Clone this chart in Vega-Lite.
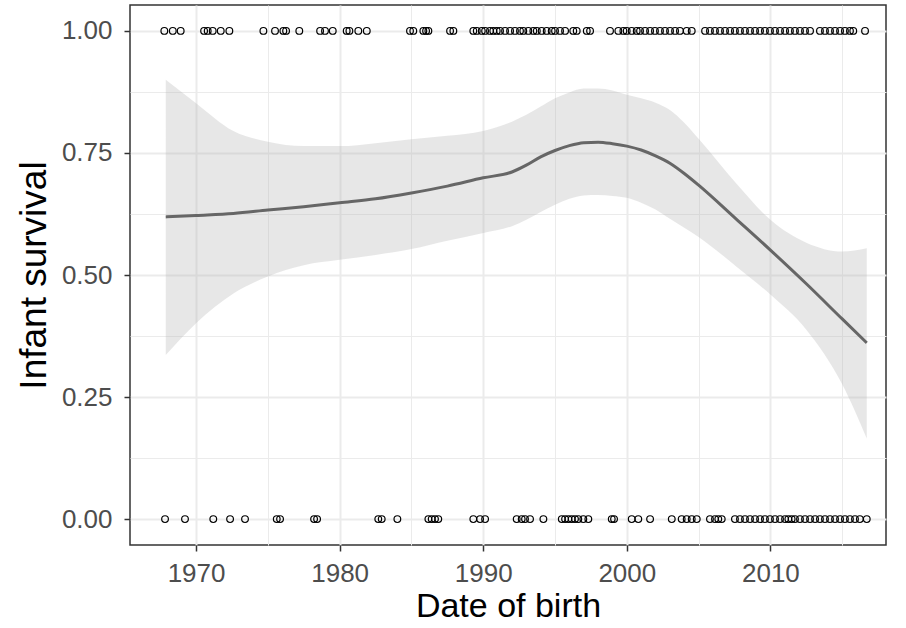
{
  "$schema": "https://vega.github.io/schema/vega-lite/v6.json",
  "width": 756,
  "height": 540,
  "autosize": {"type": "none"},
  "padding": {"left": 130, "top": 5, "right": 20, "bottom": 83},
  "background": "white",
  "config": {
    "view": {"stroke": "#333333", "strokeWidth": 1.5},
    "font": "Liberation Sans",
    "axis": {
      "domain": false,
      "grid": true,
      "gridColor": "#EBEBEB",
      "tickColor": "#333333",
      "tickWidth": 1.5,
      "tickSize": 6,
      "labelColor": "#4D4D4D",
      "labelFontSize": 26,
      "labelFont": "Liberation Sans",
      "titleFont": "Liberation Sans",
      "titleFontSize": 34,
      "titleFontWeight": "normal",
      "titleColor": "#000000",
      "labelPadding": 9
    }
  },
  "datasets": {
    "pts": [
      {"dob": 1967.79, "survival": 1}, {"dob": 1968.38, "survival": 1}, {"dob": 1968.93, "survival": 1},
      {"dob": 1970.56, "survival": 1}, {"dob": 1970.81, "survival": 1}, {"dob": 1971.16, "survival": 1},
      {"dob": 1971.72, "survival": 1}, {"dob": 1972.32, "survival": 1}, {"dob": 1974.69, "survival": 1},
      {"dob": 1975.50, "survival": 1}, {"dob": 1976.08, "survival": 1}, {"dob": 1976.27, "survival": 1},
      {"dob": 1977.19, "survival": 1}, {"dob": 1978.64, "survival": 1}, {"dob": 1978.98, "survival": 1},
      {"dob": 1979.52, "survival": 1}, {"dob": 1980.49, "survival": 1}, {"dob": 1980.68, "survival": 1},
      {"dob": 1981.30, "survival": 1}, {"dob": 1981.89, "survival": 1}, {"dob": 1984.90, "survival": 1},
      {"dob": 1985.13, "survival": 1}, {"dob": 1985.83, "survival": 1}, {"dob": 1986.02, "survival": 1},
      {"dob": 1986.18, "survival": 1}, {"dob": 1987.69, "survival": 1}, {"dob": 1987.92, "survival": 1},
      {"dob": 1989.31, "survival": 1}, {"dob": 1989.55, "survival": 1}, {"dob": 1989.90, "survival": 1},
      {"dob": 1990.13, "survival": 1}, {"dob": 1990.47, "survival": 1}, {"dob": 1990.70, "survival": 1},
      {"dob": 1990.94, "survival": 1}, {"dob": 1991.17, "survival": 1}, {"dob": 1991.52, "survival": 1},
      {"dob": 1991.87, "survival": 1}, {"dob": 1992.21, "survival": 1}, {"dob": 1992.56, "survival": 1},
      {"dob": 1992.79, "survival": 1}, {"dob": 1993.14, "survival": 1}, {"dob": 1993.49, "survival": 1},
      {"dob": 1993.73, "survival": 1}, {"dob": 1994.07, "survival": 1}, {"dob": 1994.42, "survival": 1},
      {"dob": 1994.77, "survival": 1}, {"dob": 1995.00, "survival": 1}, {"dob": 1995.35, "survival": 1},
      {"dob": 1995.70, "survival": 1}, {"dob": 1996.27, "survival": 1}, {"dob": 1996.51, "survival": 1},
      {"dob": 1997.21, "survival": 1}, {"dob": 1997.44, "survival": 1}, {"dob": 1998.83, "survival": 1},
      {"dob": 1999.41, "survival": 1}, {"dob": 1999.76, "survival": 1}, {"dob": 1999.99, "survival": 1},
      {"dob": 2000.34, "survival": 1}, {"dob": 2000.69, "survival": 1}, {"dob": 2000.92, "survival": 1},
      {"dob": 2001.27, "survival": 1}, {"dob": 2001.62, "survival": 1}, {"dob": 2001.96, "survival": 1},
      {"dob": 2002.31, "survival": 1}, {"dob": 2002.66, "survival": 1}, {"dob": 2003.01, "survival": 1},
      {"dob": 2003.36, "survival": 1}, {"dob": 2003.70, "survival": 1}, {"dob": 2004.17, "survival": 1},
      {"dob": 2004.52, "survival": 1}, {"dob": 2005.45, "survival": 1}, {"dob": 2005.79, "survival": 1},
      {"dob": 2006.14, "survival": 1}, {"dob": 2006.49, "survival": 1}, {"dob": 2006.84, "survival": 1},
      {"dob": 2007.19, "survival": 1}, {"dob": 2007.53, "survival": 1}, {"dob": 2007.88, "survival": 1},
      {"dob": 2008.23, "survival": 1}, {"dob": 2008.58, "survival": 1}, {"dob": 2008.93, "survival": 1},
      {"dob": 2009.28, "survival": 1}, {"dob": 2009.62, "survival": 1}, {"dob": 2009.97, "survival": 1},
      {"dob": 2010.32, "survival": 1}, {"dob": 2010.67, "survival": 1}, {"dob": 2011.02, "survival": 1},
      {"dob": 2011.36, "survival": 1}, {"dob": 2011.71, "survival": 1}, {"dob": 2012.06, "survival": 1},
      {"dob": 2012.41, "survival": 1}, {"dob": 2012.76, "survival": 1}, {"dob": 2013.45, "survival": 1},
      {"dob": 2013.80, "survival": 1}, {"dob": 2014.15, "survival": 1}, {"dob": 2014.50, "survival": 1},
      {"dob": 2014.85, "survival": 1}, {"dob": 2015.19, "survival": 1}, {"dob": 2015.54, "survival": 1},
      {"dob": 2015.77, "survival": 1}, {"dob": 2016.59, "survival": 1},
      {"dob": 1967.84, "survival": 0}, {"dob": 1969.23, "survival": 0}, {"dob": 1971.20, "survival": 0},
      {"dob": 1972.37, "survival": 0}, {"dob": 1973.41, "survival": 0}, {"dob": 1975.62, "survival": 0},
      {"dob": 1975.85, "survival": 0}, {"dob": 1978.22, "survival": 0}, {"dob": 1978.43, "survival": 0},
      {"dob": 1982.69, "survival": 0}, {"dob": 1982.93, "survival": 0}, {"dob": 1984.02, "survival": 0},
      {"dob": 1986.18, "survival": 0}, {"dob": 1986.41, "survival": 0}, {"dob": 1986.64, "survival": 0},
      {"dob": 1986.87, "survival": 0}, {"dob": 1989.31, "survival": 0}, {"dob": 1989.78, "survival": 0},
      {"dob": 1990.13, "survival": 0}, {"dob": 1992.33, "survival": 0}, {"dob": 1992.68, "survival": 0},
      {"dob": 1992.91, "survival": 0}, {"dob": 1993.26, "survival": 0}, {"dob": 1994.19, "survival": 0},
      {"dob": 1995.47, "survival": 0}, {"dob": 1995.70, "survival": 0}, {"dob": 1995.93, "survival": 0},
      {"dob": 1996.16, "survival": 0}, {"dob": 1996.39, "survival": 0}, {"dob": 1996.62, "survival": 0},
      {"dob": 1996.97, "survival": 0}, {"dob": 1997.32, "survival": 0}, {"dob": 1998.95, "survival": 0},
      {"dob": 1999.11, "survival": 0}, {"dob": 2000.34, "survival": 0}, {"dob": 2000.80, "survival": 0},
      {"dob": 2001.62, "survival": 0}, {"dob": 2003.13, "survival": 0}, {"dob": 2003.82, "survival": 0},
      {"dob": 2004.17, "survival": 0}, {"dob": 2004.52, "survival": 0}, {"dob": 2004.87, "survival": 0},
      {"dob": 2005.79, "survival": 0}, {"dob": 2006.14, "survival": 0}, {"dob": 2006.37, "survival": 0},
      {"dob": 2006.61, "survival": 0}, {"dob": 2007.53, "survival": 0}, {"dob": 2007.88, "survival": 0},
      {"dob": 2008.23, "survival": 0}, {"dob": 2008.58, "survival": 0}, {"dob": 2008.93, "survival": 0},
      {"dob": 2009.28, "survival": 0}, {"dob": 2009.62, "survival": 0}, {"dob": 2009.97, "survival": 0},
      {"dob": 2010.32, "survival": 0}, {"dob": 2010.67, "survival": 0}, {"dob": 2011.02, "survival": 0},
      {"dob": 2011.25, "survival": 0}, {"dob": 2011.48, "survival": 0}, {"dob": 2011.71, "survival": 0},
      {"dob": 2012.06, "survival": 0}, {"dob": 2012.41, "survival": 0}, {"dob": 2012.76, "survival": 0},
      {"dob": 2013.11, "survival": 0}, {"dob": 2013.45, "survival": 0}, {"dob": 2013.80, "survival": 0},
      {"dob": 2014.15, "survival": 0}, {"dob": 2014.50, "survival": 0}, {"dob": 2014.85, "survival": 0},
      {"dob": 2015.19, "survival": 0}, {"dob": 2015.54, "survival": 0}, {"dob": 2015.89, "survival": 0},
      {"dob": 2016.23, "survival": 0}, {"dob": 2016.71, "survival": 0}
    ],
    "smooth": [
      {"dob": 1967.89, "fit": 0.619, "lo": 0.336, "hi": 0.900},
      {"dob": 1970.0, "fit": 0.622, "lo": 0.401, "hi": 0.852},
      {"dob": 1972.6, "fit": 0.626, "lo": 0.462, "hi": 0.795},
      {"dob": 1975.0, "fit": 0.633, "lo": 0.497, "hi": 0.773},
      {"dob": 1977.5, "fit": 0.640, "lo": 0.520, "hi": 0.764},
      {"dob": 1980.0, "fit": 0.648, "lo": 0.531, "hi": 0.764},
      {"dob": 1982.5, "fit": 0.656, "lo": 0.541, "hi": 0.770},
      {"dob": 1985.0, "fit": 0.668, "lo": 0.553, "hi": 0.778},
      {"dob": 1987.5, "fit": 0.682, "lo": 0.570, "hi": 0.785},
      {"dob": 1990.0, "fit": 0.699, "lo": 0.586, "hi": 0.795},
      {"dob": 1992.0, "fit": 0.711, "lo": 0.600, "hi": 0.814},
      {"dob": 1993.0, "fit": 0.725, "lo": 0.613, "hi": 0.828},
      {"dob": 1994.0, "fit": 0.742, "lo": 0.629, "hi": 0.845},
      {"dob": 1995.0, "fit": 0.755, "lo": 0.644, "hi": 0.862},
      {"dob": 1996.0, "fit": 0.765, "lo": 0.656, "hi": 0.874},
      {"dob": 1997.0, "fit": 0.771, "lo": 0.663, "hi": 0.882},
      {"dob": 1998.0, "fit": 0.772, "lo": 0.664, "hi": 0.882},
      {"dob": 1999.0, "fit": 0.769, "lo": 0.662, "hi": 0.878},
      {"dob": 2000.0, "fit": 0.764, "lo": 0.658, "hi": 0.869},
      {"dob": 2001.0, "fit": 0.756, "lo": 0.648, "hi": 0.862},
      {"dob": 2002.0, "fit": 0.744, "lo": 0.634, "hi": 0.853},
      {"dob": 2003.0, "fit": 0.729, "lo": 0.615, "hi": 0.838},
      {"dob": 2004.0, "fit": 0.708, "lo": 0.597, "hi": 0.812},
      {"dob": 2005.0, "fit": 0.684, "lo": 0.578, "hi": 0.779},
      {"dob": 2007.64, "fit": 0.614, "lo": 0.517, "hi": 0.687},
      {"dob": 2010.0, "fit": 0.551, "lo": 0.460, "hi": 0.613},
      {"dob": 2012.5, "fit": 0.482, "lo": 0.388, "hi": 0.566},
      {"dob": 2015.0, "fit": 0.410, "lo": 0.276, "hi": 0.548},
      {"dob": 2016.71, "fit": 0.361, "lo": 0.165, "hi": 0.555}
    ]
  },
  "layer": [
    {
      "data": {"name": "pts"},
      "mark": {"type": "point", "shape": "circle", "filled": false, "stroke": "#000000", "strokeWidth": 1.2, "size": 45, "opacity": 1},
      "encoding": {
        "x": {
          "field": "dob", "type": "quantitative",
          "scale": {"domain": [1965.4, 2018.05], "nice": false, "zero": false},
          "axis": {
            "title": "Date of birth",
            "values": [1970, 1975, 1980, 1985, 1990, 1995, 2000, 2005, 2010, 2015],
            "labelExpr": "datum.value % 10 === 0 ? format(datum.value, 'd') : ''",
            "gridWidth": {"condition": {"test": "datum.value % 10 === 0", "value": 2}, "value": 1},
            "tickOpacity": {"condition": {"test": "datum.value % 10 === 0", "value": 1}, "value": 0},
            "titlePadding": 3
          }
        },
        "y": {
          "field": "survival", "type": "quantitative",
          "scale": {"domain": [-0.053, 1.053], "nice": false, "zero": false},
          "axis": {
            "title": "Infant survival",
            "titleFontSize": 37,
            "labelPadding": 12,
            "values": [0, 0.125, 0.25, 0.375, 0.5, 0.625, 0.75, 0.875, 1],
            "labelExpr": "(datum.value * 4) % 1 === 0 ? format(datum.value, '.2f') : ''",
            "gridWidth": {"condition": {"test": "(datum.value * 4) % 1 === 0", "value": 2}, "value": 1},
            "tickOpacity": {"condition": {"test": "(datum.value * 4) % 1 === 0", "value": 1}, "value": 0},
            "titlePadding": 8
          }
        }
      }
    },
    {
      "data": {"name": "smooth"},
      "mark": {"type": "area", "color": "#B0B0B0", "opacity": 0.3, "interpolate": "monotone"},
      "encoding": {
        "x": {"field": "dob", "type": "quantitative"},
        "y": {"field": "lo", "type": "quantitative"},
        "y2": {"field": "hi"}
      }
    },
    {
      "data": {"name": "smooth"},
      "mark": {"type": "line", "color": "#666666", "strokeWidth": 3, "interpolate": "monotone"},
      "encoding": {
        "x": {"field": "dob", "type": "quantitative"},
        "y": {"field": "fit", "type": "quantitative"}
      }
    }
  ]
}
